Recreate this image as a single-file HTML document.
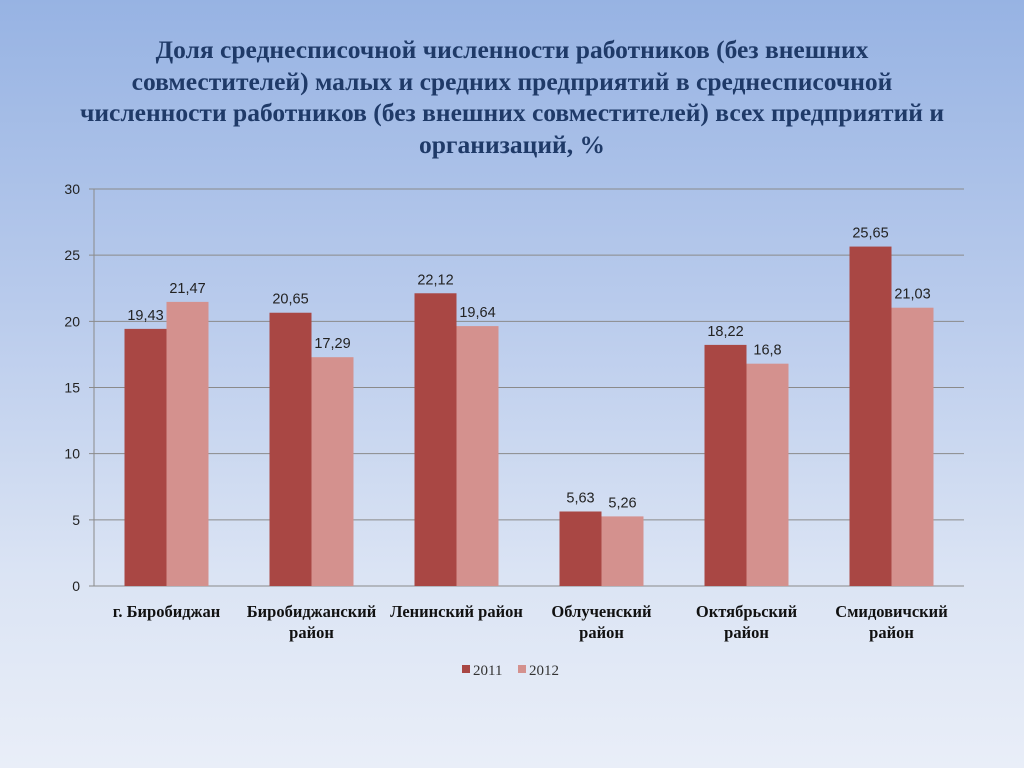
<!DOCTYPE html>
<html><head><meta charset="utf-8"><style>
body{margin:0;width:1024px;height:768px;overflow:hidden;background:linear-gradient(to bottom,#97b3e3 0%,#b9cbec 40%,#dbe4f4 75%,#e9eef8 100%);font-family:"Liberation Sans",sans-serif}
#title{position:absolute;left:20px;width:984px;top:34px;text-align:center;font-family:"Liberation Serif",serif;font-weight:bold;font-size:25.5px;line-height:31.5px;color:#1f3a68}
svg{position:absolute;left:0;top:0}
</style></head><body>
<div id="title">Доля среднесписочной численности работников (без внешних<br>совместителей) малых и средних предприятий в среднесписочной<br>численности работников (без внешних совместителей) всех предприятий и<br>организаций, %</div>
<svg id="c" width="1024" height="768"></svg>
<script>
const categories=[["г. Биробиджан"],["Биробиджанский","район"],["Ленинский район"],["Облученский","район"],["Октябрьский","район"],["Смидовичский","район"]];
const s2011=[19.43,20.65,22.12,5.63,18.22,25.65];
const s2012=[21.47,17.29,19.64,5.26,16.8,21.03];
const ticks=[0,5,10,15,20,25,30];
const NS="http://www.w3.org/2000/svg",svg=document.getElementById('c');
const x0=94,x1=964,y0=586,y1=189,ymax=30;
const y=v=>y0-(v/ymax)*(y0-y1);
const gw=(x1-x0)/categories.length,bw=42;
function mk(t,a,txt){const e=document.createElementNS(NS,t);for(const k in a)e.setAttribute(k,a[k]);if(txt!=null)e.textContent=txt;svg.appendChild(e);return e;}
ticks.forEach(t=>{
const l=mk('line',{x1:x0-5,x2:x1,y1:y(t),y2:y(t),stroke:'#8a8a8a','stroke-width':1});


const tx=mk('text',{x:x0-14,y:y(t)+5,'text-anchor':'end','font-size':14,fill:'#222'},String(t));


});
const ax=mk('line',{x1:x0,x2:x0,y1:y1,y2:y0,stroke:'#8a8a8a'});


const fmt=v=>String(v).replace('.',',');
categories.forEach((c,i)=>{
const cx=x0+gw*i+gw/2;
[[s2011[i],'#a94744',cx-bw],[s2012[i],'#d4918e',cx]].forEach(([v,col,bx],j)=>{
const r=mk('rect',{x:bx,y:y(v),width:bw,height:y0-y(v),fill:col});


const t=mk('text',{x:bx+bw/2,y:y(v)-9,'text-anchor':'middle','font-size':14.5,fill:'#222'},fmt(v));


});
c.forEach((ln,k)=>{
const t=mk('text',{x:cx,y:617+k*21,'text-anchor':'middle','font-size':16.5,'font-weight':'bold','font-family':'Liberation Serif, serif',fill:'#111'},ln);


});
});
[['2011','#a94744',462],['2012','#d4918e',518]].forEach(([n,col,lx])=>{
const r=mk('rect',{x:lx,y:665,width:8,height:8,fill:col});


const t=mk('text',{x:lx+11,y:675,'font-size':15,'font-family':'Liberation Serif, serif',fill:'#333'},n);


});
</script>
</body></html>
